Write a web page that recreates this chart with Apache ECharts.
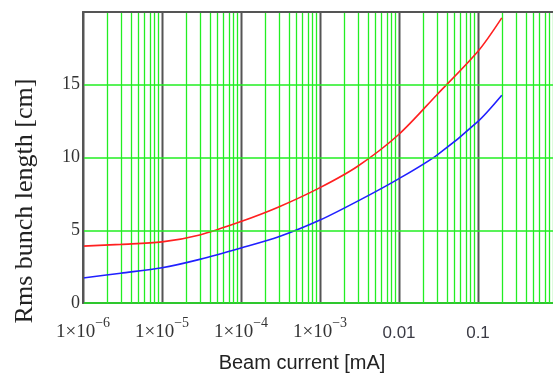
<!DOCTYPE html>
<html>
<head>
<meta charset="utf-8">
<script src="https://cdn.jsdelivr.net/npm/echarts@6/dist/echarts.min.js"></script>
<style>html,body{margin:0;padding:0;background:#fff;}#c{width:553px;height:376px;}</style>
</head>
<body>
<div id="c"></div>
<script>
// Beam current [mA]
var current = [1e-6, 3e-6, 1e-5, 3e-5, 1e-4, 3e-4, 1e-3, 3e-3, 1e-2, 3e-2, 1e-1, 2e-1];
// Rms bunch length [cm]
var redLength  = [3.91, 4.03, 4.2, 4.68, 5.6, 6.6, 7.93, 9.4, 11.6, 14.3, 17.3, 19.6];
var blueLength = [1.72, 2.05, 2.42, 3.0, 3.78, 4.55, 5.7, 7.0, 8.55, 10.15, 12.48, 14.28];
// tick labels
var decadeTicks = [1e-6, 1e-5, 1e-4, 1e-3, 0.01, 0.1, 1];
var decadeExp   = ['−6', '−5', '−4', '−3', null, null, null];
var decadePlain = [null, null, null, null, '0.01', '0.1', ''];
var minorMult = [2, 3, 4, 5, 6, 7, 8, 9];
var yTicks = [0, 5, 10, 15];
var yMin = 0, yMax = 20;

var gridLines = [];
for (var i = 0; i < decadeTicks.length - 1; i++) {
  for (var j = 0; j < minorMult.length; j++) {
    gridLines.push([decadeTicks[i] * minorMult[j], 0]);
  }
}
for (var d = 0; d < decadeTicks.length; d++) gridLines.push([decadeTicks[d], 1]);

function pair(xs, ys) { return xs.map(function (x, k) { return [x, ys[k]]; }); }

var chart = echarts.init(document.getElementById('c'), null, { renderer: 'canvas' });
chart.setOption({
  animation: false,
  grid: { left: 83, top: 12, right: -4, bottom: 73, containLabel: false, outerBoundsMode: 'none' },
  xAxis: [{
    type: 'log', logBase: 10, min: 1e-6, max: 1, splitNumber: 6,
    axisLine: { show: true, lineStyle: { color: '#555', width: 2 } },
    axisTick: { show: false },
    splitLine: { show: false },
    axisLabel: {
      margin: 13,
      formatter: function (v) {
        for (var k = 0; k < decadeTicks.length; k++) {
          if (Math.abs(Math.log10(v) - Math.log10(decadeTicks[k])) < 1e-6) {
            if (decadeExp[k]) return '{a|1×10}{b|' + decadeExp[k] + '}';
            return decadePlain[k] ? '{c|' + decadePlain[k] + '}' : '';
          }
        }
        return '';
      },
      rich: {
        a: { fontFamily: 'Liberation Serif', fontSize: 19, color: '#333', lineHeight: 26, verticalAlign: 'bottom' },
        b: { fontFamily: 'Liberation Serif', fontSize: 14, color: '#333', lineHeight: 14, verticalAlign: 'top' },
        c: { fontFamily: 'Liberation Sans', fontSize: 17, color: '#3a3a44', lineHeight: 26, verticalAlign: 'bottom' }
      }
    },
    name: 'Beam current [mA]',
    nameLocation: 'middle',
    nameGap: 50,
    nameTextStyle: { fontFamily: 'Liberation Sans', fontSize: 20, color: '#222', padding: [0, 36, 0, 0] }
  }, {
    type: 'log', logBase: 10, min: 1e-6, max: 1, position: 'top', z: 5,
    axisLine: { show: true, lineStyle: { color: '#555', width: 2 } },
    axisTick: { show: false }, axisLabel: { show: false }, splitLine: { show: false }
  }],
  yAxis: {
    type: 'value', min: yMin, max: yMax, interval: 5, z: 4,
    axisLine: { show: true, lineStyle: { color: '#555', width: 2 } },
    axisTick: { show: false },
    splitLine: { show: true, lineStyle: { color: '#22ee22', width: 1.6 } },
    axisLabel: {
      margin: 3, fontFamily: 'Liberation Serif', fontSize: 18, color: '#333',
      formatter: function (v) { return yTicks.indexOf(v) >= 0 ? String(v) : ''; }
    }
  },
  graphic: [{
    type: 'text', x: 25, y: 201, rotation: Math.PI / 2,
    style: { text: 'Rms bunch length [cm]', fontFamily: 'Liberation Serif', fontSize: 26, fill: '#222', align: 'center', verticalAlign: 'middle' }
  }],
  series: [{
    type: 'custom', silent: true, z: 1, clip: true,
    data: gridLines,
    encode: { x: 0 },
    renderItem: function (params, api) {
      var x = api.value(0);
      var major = api.value(1) === 1;
      var p0 = api.coord([x, yMin]);
      var p1 = api.coord([x, yMax]);
      return {
        type: 'line',
        shape: { x1: Math.round(p0[0]) + 0.5, y1: p0[1], x2: Math.round(p1[0]) + 0.5, y2: p1[1] },
        style: { stroke: major ? '#555' : '#22ee22', lineWidth: major ? 2 : 1.3 },
        z2: major ? 2 : 1
      };
    }
  }, {
    name: 'red', type: 'line', data: pair(current, redLength), smooth: 0.3, showSymbol: false, z: 3,
    lineStyle: { color: '#ff2020', width: 1.6 }
  }, {
    name: 'blue', type: 'line', data: pair(current, blueLength), smooth: 0.3, showSymbol: false, z: 3,
    lineStyle: { color: '#2020ff', width: 1.6 }
  }]
});
</script>
</body>
</html>
